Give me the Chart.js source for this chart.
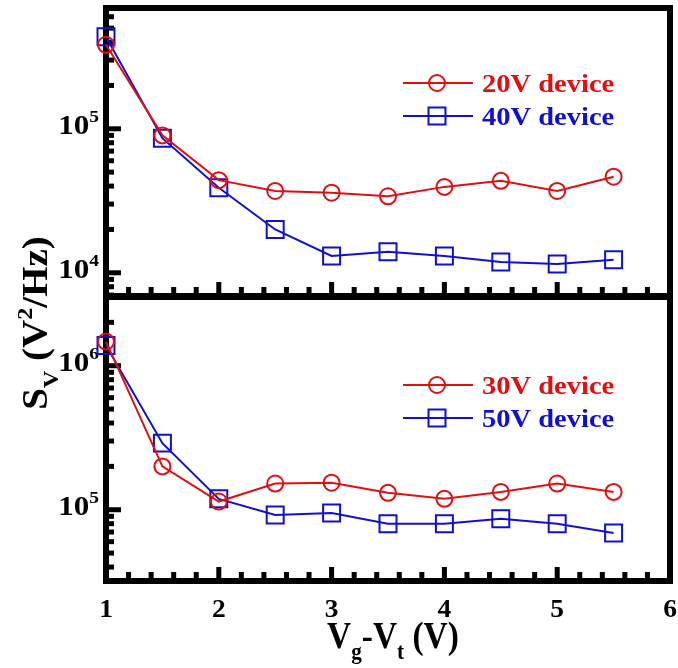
<!DOCTYPE html>
<html>
<head>
<meta charset="utf-8">
<script src="https://cdn.jsdelivr.net/npm/chart.js@4.4.1/dist/chart.umd.min.js"></script>
<style>
    body { margin: 0; background: #fff; }
    #wrap { position: relative; width: 678px; height: 668px; }
    #wrap canvas { position: absolute; left: 0; top: 0; }
</style>
</head>
<body>
<div id="wrap">
    <canvas id="topPanel" width="678" height="668"></canvas>
    <canvas id="bottomPanel" width="678" height="668"></canvas>
</div>
<script>
// gate overdrive Vg-Vt (V)
const vgVt = [1, 1.5, 2, 2.5, 3, 3.5, 4, 4.5, 5, 5.5];

// noise PSD S_V (V^2/Hz) per device
const sv20V = [3.83e5, 9.0e4, 4.4e4, 3.7e4, 3.6e4, 3.4e4, 3.95e4, 4.35e4, 3.7e4, 4.65e4];
const sv40V = [4.35e5, 8.6e4, 3.9e4, 2.0e4, 1.31e4, 1.40e4, 1.31e4, 1.19e4, 1.15e4, 1.23e4];
const sv30V = [1.47e6, 2.0e5, 1.14e5, 1.52e5, 1.54e5, 1.31e5, 1.19e5, 1.33e5, 1.52e5, 1.33e5];
const sv50V = [1.38e6, 2.9e5, 1.19e5, 9.2e4, 9.5e4, 8.0e4, 8.0e4, 8.66e4, 8.0e4, 6.9e4];

const xTicks = [1, 2, 3, 4, 5, 6];
const topDecades = [4, 5];
const bottomDecades = [5, 6];

const RED = '#e01010';
const BLUE = '#1010d0';
const FONT = '"Liberation Serif", serif';

// text with sub/superscripts; parts = [[text, ''|'sub'|'sup'], ...]
function drawRich(ctx, parts, x, y, size, align, sx) {
    const fontFor = m => `bold ${m ? Math.round(size * 0.62) : size}px ${FONT}`;
    let w = 0;
    parts.forEach(([t, m]) => { ctx.font = fontFor(m); w += ctx.measureText(t).width; });
    ctx.save();
    ctx.translate(x, y);
    ctx.scale(sx, 1);
    ctx.textAlign = 'left';
    ctx.textBaseline = 'alphabetic';
    let cx = align === 'right' ? -w : align === 'center' ? -w / 2 : 0;
    parts.forEach(([t, m]) => {
        ctx.font = fontFor(m);
        const dy = m === 'sup' ? -size * 0.42 : m === 'sub' ? size * 0.3 : 0;
        ctx.fillText(t, cx, dy);
        cx += ctx.measureText(t).width;
    });
    ctx.restore();
}

// thick box, inward ticks and tick labels
const panelFrame = {
    id: 'panelFrame',
    beforeDatasetsDraw(chart, args, opts) {
        const { ctx, chartArea: a, scales: { x, y } } = chart;
        ctx.save();
        ctx.fillStyle = '#000';

        const lo = Math.floor(Math.log10(y.min));
        const hi = Math.ceil(Math.log10(y.max));
        for (let d = lo; d <= hi; d++) {
            for (let m = 1; m <= 9; m++) {
                const v = m * Math.pow(10, d);
                if (v < y.min || v > y.max) continue;
                const py = y.getPixelForValue(v);
                ctx.fillRect(a.left, py - 2.5, m === 1 ? 15 : 8, 5);
            }
        }
        for (let i = 0; i <= 25; i++) {
            const px = x.getPixelForValue(1 + i * 0.2);
            const len = i % 5 === 0 ? 14 : 9;
            ctx.fillRect(px - 2.5, a.bottom - len, 5, len);
        }

        ctx.lineWidth = 6;
        ctx.strokeStyle = '#000';
        ctx.strokeRect(a.left, a.top, a.right - a.left, a.bottom - a.top);

        // y tick labels 10^n
        opts.decades.forEach(d => {
            const py = y.getPixelForValue(Math.pow(10, d));
            drawRich(ctx, [['10', ''], [String(d), 'sup']], a.left - 7, py + 5, 27, 'right', 1.15);
        });

        if (opts.xLabels) {
            xTicks.forEach(v => {
                drawRich(ctx, [[String(v), '']], x.getPixelForValue(v), 617, 25, 'center', 1.1);
            });
            drawRich(ctx, [['V', ''], ['g', 'sub'], ['-V', ''], ['t', 'sub'], [' (V)', '']],
                393, 648, 38, 'center', 0.88);
        }
        if (opts.yTitle) {
            ctx.save();
            ctx.translate(47, 323);
            ctx.rotate(-Math.PI / 2);
            ctx.scale(1, 0.9);
            drawRich(ctx, [['S', ''], ['V', 'sub'], [' (V', ''], ['2', 'sup'], ['/Hz)', '']],
                0, 0, 39, 'center', 1);
            ctx.restore();
        }
        ctx.restore();
    }
};

// line-marker-line legend with coloured labels
const panelLegend = {
    id: 'panelLegend',
    afterDatasetsDraw(chart, args, opts) {
        const ctx = chart.ctx;
        chart.data.datasets.forEach((ds, i) => {
            const y = opts.y + i * 33;
            ctx.save();
            ctx.strokeStyle = ds.borderColor;
            ctx.lineWidth = 2;
            ctx.beginPath();
            ctx.moveTo(opts.x, y);
            ctx.lineTo(opts.x + 70, y);
            ctx.stroke();
            ctx.fillStyle = 'rgba(0,0,0,0)';
            Chart.helpers.drawPoint(ctx, {
                pointStyle: ds.pointStyle, radius: ds.pointRadius, borderWidth: 2, rotation: 0
            }, opts.x + 34, y);
            ctx.fillStyle = ds.borderColor;
            drawRich(ctx, [[ds.label, '']], opts.x + 79, y + 9, 25, 'left', 1.14);
            ctx.restore();
        });
    }
};

function series(label, values, color, style) {
    return {
        label: label,
        data: vgVt.map((v, i) => ({ x: v, y: values[i] })),
        borderColor: color,
        backgroundColor: 'rgba(0,0,0,0)',
        borderWidth: 2,
        pointStyle: style,
        pointRadius: style === 'rect' ? 12 : 8,
        pointBorderWidth: 2,
        pointBorderColor: color,
        pointBackgroundColor: 'rgba(0,0,0,0)',
        tension: 0,
        clip: false
    };
}

function makePanel(canvas, datasets, yMin, yMax, pad, frame, legend) {
    return new Chart(canvas, {
        type: 'line',
        data: { datasets: datasets },
        options: {
            responsive: false,
            animation: false,
            devicePixelRatio: 1,
            layout: { padding: pad, autoPadding: false },
            scales: {
                x: { type: 'linear', min: 1, max: 6, display: false },
                y: { type: 'logarithmic', min: yMin, max: yMax, display: false }
            },
            plugins: {
                legend: { display: false },
                tooltip: { enabled: false },
                panelFrame: frame,
                panelLegend: legend
            }
        },
        plugins: [panelFrame, panelLegend]
    });
}

function build() {
    makePanel(document.getElementById('topPanel'),
        [series('20V device', sv20V, RED, 'circle'), series('40V device', sv40V, BLUE, 'rect')],
        6.9e3, 6.9e5,
        { left: 106, right: 8, top: 8, bottom: 372 },
        { decades: topDecades, xLabels: false, yTitle: true },
        { x: 403, y: 83 });

    makePanel(document.getElementById('bottomPanel'),
        [series('30V device', sv30V, RED, 'circle'), series('50V device', sv50V, BLUE, 'rect')],
        3.2e4, 3.0e6,
        { left: 106, right: 8, top: 297, bottom: 87 },
        { decades: bottomDecades, xLabels: true, yTitle: false },
        { x: 403, y: 385 });
}

// make sure the serif face is ready before drawing on canvas
document.fonts.load('bold 25px "Liberation Serif"').then(build, build);
</script>
</body>
</html>
